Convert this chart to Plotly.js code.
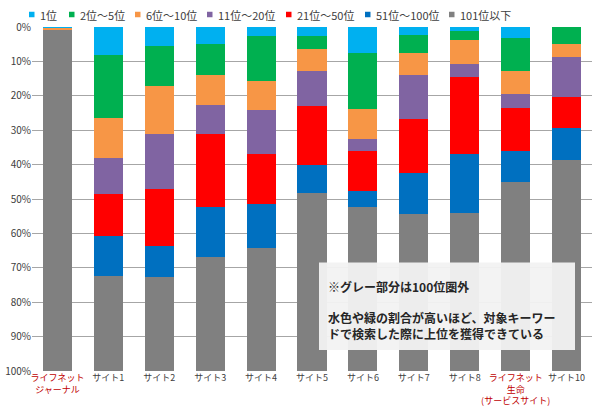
<!DOCTYPE html>
<html><head><meta charset="utf-8">
<script src="https://cdn.plot.ly/plotly-3.0.1.min.js"></script>
<style>html,body{margin:0;padding:0;background:#fff}#chart{width:600px;height:417px}</style>
</head><body><div id="chart"></div>
<script>
const categories = ["ライフネット<br>ジャーナル","サイト1","サイト2","サイト3","サイト4","サイト5","サイト6","サイト7","サイト8","ライフネット<br>生命<br>(サービスサイト)","サイト10"];
const highlighted = [true,false,false,false,false,false,false,false,false,true,false];
const seriesNames = ["1位","2位～5位","6位～10位","11位～20位","21位～50位","51位～100位","101位以下"];
const rank1     = [0.3, 8.0, 5.4, 4.9, 2.6, 2.6, 7.7, 2.2, 1.1, 3.2, 0];
const rank2to5  = [0,  18.4, 11.8, 9.1, 13.0, 3.9, 16.2, 5.4, 2.8, 9.6, 4.9];
const rank6to10 = [0.6, 11.6, 13.9, 8.7, 8.5, 6.3, 8.7, 6.4, 6.8, 6.6, 3.7];
const rank11to20= [0,  10.5, 16.1, 8.3, 12.8, 10.3, 3.4, 12.8, 3.7, 4.1, 11.7];
const rank21to50= [0,  12.2, 16.4, 21.2, 14.6, 17.0, 11.6, 15.5, 22.5, 12.5, 9.1];
const rank51to100=[0,  11.6, 9.2, 14.8, 12.7, 8.1, 4.7, 12.1, 17.2, 9.0, 9.2];
const rank101plus=[99.1, 27.7, 27.2, 33.0, 35.8, 51.8, 47.7, 45.6, 45.9, 55.0, 61.4];
const yTicks = [0,10,20,30,40,50,60,70,80,90,100];
const noteText = "<b>※グレー部分は100位圏外</b><br> <br><b>水色や緑の割合が高いほど、対象キーワー</b><br><b>ドで検索した際に上位を獲得できている</b>";

const colors = ["#00B0F0","#00B050","#F79646","#8064A2","#FF0000","#0070C0","#808080"];
const allSeries = [rank1, rank2to5, rank6to10, rank11to20, rank21to50, rank51to100, rank101plus];
const xIdx = categories.map((_, i) => i);
const traces = allSeries.map((vals, k) => ({
  type: "bar", name: seriesNames[k], x: xIdx, y: vals,
  marker: {color: colors[k]}, hoverinfo: "skip", showlegend: false
}));
const tickLabels = categories.map((c, i) => highlighted[i] ? `<span style="color:#C00000">${c}</span>` : c);

// manual legend layout (pixel positions of the legend squares)
const W = 600, H = 417, M = {l: 32, r: 8, t: 27, b: 46};
const pw = W - M.l - M.r, ph = H - M.t - M.b;
const px2x = p => (p - M.l) / pw;
const px2y = p => (H - M.b - p) / ph;
const legendLeft = [29, 69, 135, 207, 286, 365, 449];
const legendY = 14.5, sq = 5.5;
const shapes = [{type: "rect", xref: "paper", yref: "paper", x0: px2x(319), x1: px2x(575), y0: px2y(350), y1: px2y(262.5),
            fillcolor: "rgba(242,242,242,0.95)", line: {width: 0}, layer: "above"}];
const annotations = [{xref: "paper", yref: "paper", x: px2x(326), y: px2y(276), xanchor: "left", yanchor: "top",
                 text: noteText, align: "left", showarrow: false,
                 font: {size: 12, color: "#262626"}}];
seriesNames.forEach((n, k) => {
  shapes.push({type: "rect", xref: "paper", yref: "paper", x0: px2x(legendLeft[k]), x1: px2x(legendLeft[k] + sq),
    y0: px2y(legendY + sq / 2), y1: px2y(legendY - sq / 2), fillcolor: colors[k], line: {width: 0}});
  annotations.push({xref: "paper", yref: "paper", x: px2x(legendLeft[k] + sq + 3), y: px2y(legendY),
    xanchor: "left", yanchor: "middle", text: n, showarrow: false, font: {size: 11, color: "#404040"}});
});

const layout = {
  width: W, height: H,
  margin: M,
  barmode: "stack", bargap: 0.43,
  paper_bgcolor: "#fff", plot_bgcolor: "#fff",
  font: {family: "'Noto Sans CJK JP', sans-serif", color: "#404040", size: 10},
  showlegend: false,
  xaxis: {tickmode: "array", tickvals: xIdx, ticktext: tickLabels, range: [-0.5, 10.5], tickangle: 0,
          showgrid: false, zeroline: false, showline: false, ticks: "", automargin: false,
          tickfont: {size: 9, color: "#404040"}},
  yaxis: {range: [100, 0], tickmode: "array", tickvals: yTicks, ticktext: yTicks.map(v => v + "%"),
          showgrid: true, gridcolor: "#A6A6A6", gridwidth: 1, zeroline: false, showline: false, automargin: false,
          ticks: "", tickfont: {size: 10, color: "#404040"}},
  shapes: shapes,
  annotations: annotations
};
Plotly.newPlot("chart", traces, layout, {displayModeBar: false, staticPlot: true});
</script></body></html>
